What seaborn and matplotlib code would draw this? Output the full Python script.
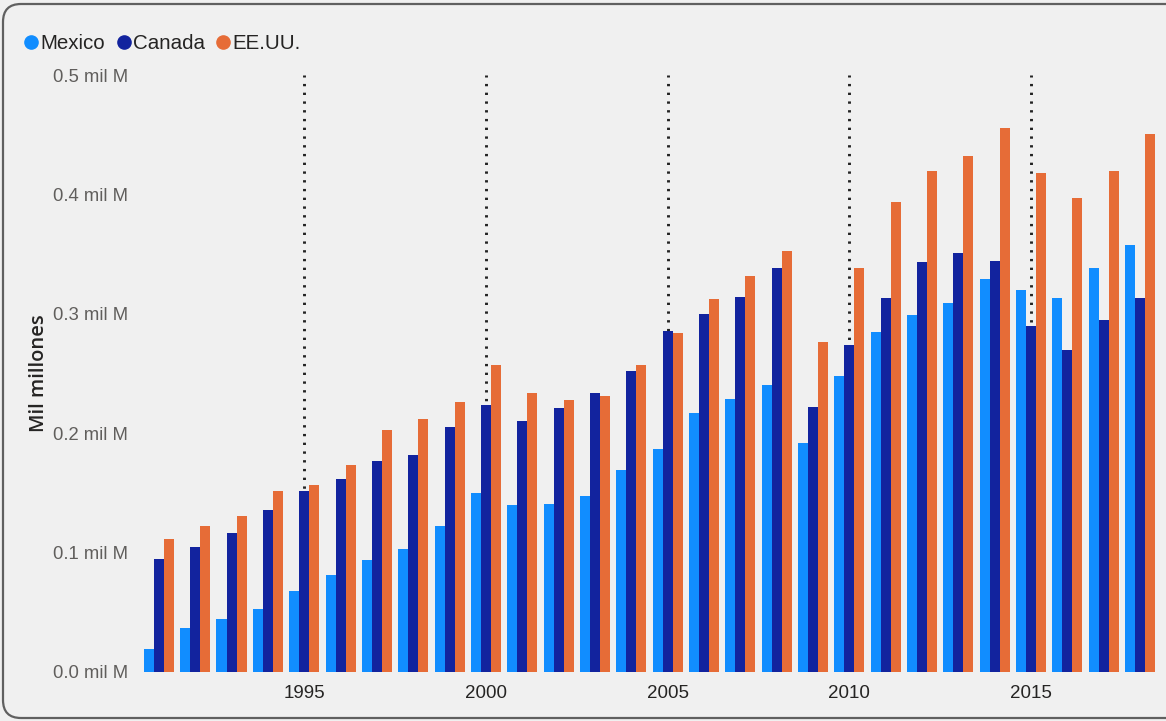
import matplotlib
matplotlib.use("Agg")
import matplotlib.pyplot as plt
from matplotlib.patches import FancyBboxPatch
from matplotlib.transforms import IdentityTransform
from matplotlib.ticker import FuncFormatter
import seaborn as sns
import pandas as pd

# Values in "mil millones"
years = list(range(1991, 2019))
mexico = [0.019, 0.037, 0.044, 0.053, 0.068, 0.081, 0.094, 0.103, 0.122, 0.150,
          0.140, 0.141, 0.147, 0.169, 0.187, 0.217, 0.229, 0.240, 0.192, 0.248,
          0.285, 0.299, 0.309, 0.329, 0.320, 0.313, 0.338, 0.358]
canada = [0.095, 0.105, 0.116, 0.136, 0.152, 0.162, 0.177, 0.182, 0.205, 0.224,
          0.210, 0.221, 0.234, 0.252, 0.286, 0.300, 0.314, 0.338, 0.222, 0.274,
          0.313, 0.343, 0.351, 0.344, 0.290, 0.270, 0.295, 0.313]
eeuu = [0.111, 0.122, 0.131, 0.152, 0.157, 0.173, 0.203, 0.212, 0.226, 0.257,
        0.234, 0.228, 0.231, 0.257, 0.284, 0.312, 0.332, 0.353, 0.276, 0.338,
        0.394, 0.420, 0.432, 0.456, 0.418, 0.397, 0.420, 0.451]
series = ["Mexico", "Canada", "EE.UU."]
colors = ["#118DFF", "#12239E", "#E66C37"]
tick_years = [1995, 2000, 2005, 2010, 2015]
y_ticks = [0.0, 0.1, 0.2, 0.3, 0.4, 0.5]

BG = "#F0F0F0"


def main():
    df = pd.DataFrame({
        "year": [str(y) for y in years] * 3,
        "value": mexico + canada + eeuu,
        "country": [s for s in series for _ in years],
    })

    sns.set_theme(style="white")
    plt.rcParams["font.family"] = ["Liberation Sans", "DejaVu Sans"]

    fig = plt.figure(figsize=(11.66, 7.21), dpi=100, facecolor=BG)
    ax = fig.add_axes([140 / 1166, 1 - 672 / 721, 1020 / 1166, (672 - 75) / 721])
    ax.set_facecolor(BG)

    # rounded frame around the visual (pixel coords, right side runs off the image)
    frame = FancyBboxPatch((3, 3), 1220, 714,
                           boxstyle="round,pad=0,rounding_size=18",
                           facecolor="none", edgecolor="#606060",
                           linewidth=1.6, zorder=0)
    frame.set_transform(IdentityTransform())
    fig.patches.append(frame)

    sns.barplot(data=df, x="year", y="value", hue="country", hue_order=series,
                palette=colors, width=0.83, gap=0, saturation=1,
                edgecolor="none", ax=ax, legend=False)

    ax.set_xlim(-0.52, 27.55)
    ax.set_ylim(0, 0.5)
    ax.set_yticks(y_ticks)
    ax.yaxis.set_major_formatter(FuncFormatter(lambda v, _: f"{v:.1f} mil M"))
    ax.set_xticks([years.index(y) for y in tick_years])
    ax.set_xticklabels([str(y) for y in tick_years])

    # dotted vertical gridlines behind the bars
    ax.set_axisbelow(True)
    ax.grid(axis="x", color="#222222", linestyle=(0, (0.8, 2.2)), linewidth=2.1)
    ax.grid(axis="y", visible=False)
    for sp in ax.spines.values():
        sp.set_visible(False)

    ax.tick_params(axis="y", length=0, pad=8.5, labelsize=13.3, labelcolor="#605E5C")
    ax.tick_params(axis="x", length=0, pad=9, labelsize=13.5, labelcolor="#252423")
    ax.set_xlabel("")
    ax.set_ylabel("Mil millones", fontsize=14.5, color="#252423", labelpad=3,
                  family=["Open Sans", "Liberation Sans"], fontweight="semibold")

    handles = [plt.Line2D([], [], marker="o", linestyle="none", markersize=9.5,
                          markerfacecolor=c, markeredgecolor=c) for c in colors]
    fig.legend(handles, series, loc="upper left", bbox_to_anchor=(0.003, 0.978),
               ncol=3, frameon=False, fontsize=14.8, handletextpad=0.0,
               columnspacing=0.45, handlelength=0.9, labelcolor="#252423")

    fig.savefig("out.png", dpi=100, facecolor=BG)
    plt.close(fig)


if __name__ == "__main__":
    main()
